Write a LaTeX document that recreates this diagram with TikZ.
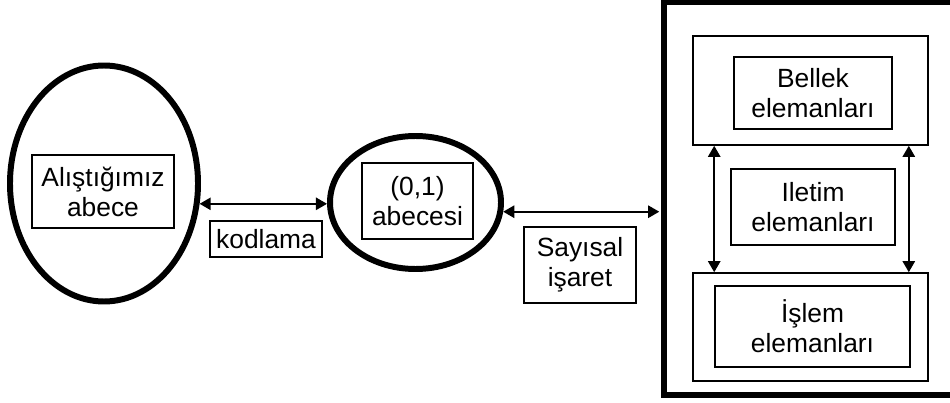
\documentclass[tikz,border=0pt]{standalone}
\usepackage{fontspec}
\setmainfont{Liberation Sans}
\usepackage{tikz}
\usetikzlibrary{arrows.meta,calc,positioning,shapes.geometric}
\tikzset{
    myellipse/.style={ellipse,draw=black,line width=3.4pt,inner sep=0pt},
    mybox/.style={rectangle,draw=black,line width=0.9pt,inner sep=0pt,align=center},
    myframe/.style={rectangle,draw=black,line width=3.4pt,inner sep=0pt},
    myarrow/.style={line width=1pt,draw=black,{Triangle[length=6.3pt,width=7pt]}-{Triangle[length=6.3pt,width=7pt]}},
    every node/.style={font=\fontsize{15}{17}\selectfont}
}

\begin{document}
\begin{tikzpicture}
  \useasboundingbox (0,0) rectangle (19,-8.06);
  % left part: ordinary alphabet and binary alphabet
  \node[myellipse,minimum width=3.76cm,minimum height=4.72cm] (alfa) at (2.08,-3.67) {};
  \node[mybox,minimum width=2.84cm,minimum height=1.46cm] (alfametin) at (2.06,-3.83) {Alıştığımız\\abece};
  \node[mybox,minimum width=2.24cm,minimum height=0.72cm] (kodlama) at (5.32,-4.78) {kodlama};
  \node[myellipse,minimum width=3.42cm,minimum height=2.66cm] (ikili) at (8.31,-4.05) {};
  \node[mybox,minimum width=2.22cm,minimum height=1.52cm] (ikilimetin) at (8.35,-4.02) {(0,1)\\abecesi};
  \node[mybox,minimum width=2.24cm,minimum height=1.52cm] (sayisal) at (11.6,-5.3) {Sayısal\\işaret};

  % right part: the machine
  \node[myframe,minimum width=5.86cm,minimum height=7.85cm] (makine) at (16.21,-3.975) {};
  \node[mybox,minimum width=4.7cm,minimum height=2.18cm] (bellek) at (16.21,-1.81) {};
  \node[mybox,minimum width=3.16cm,minimum height=1.44cm] (bellekmetin) at (16.26,-1.86) {Bellek\\elemanları};
  \node[mybox,minimum width=3.28cm,minimum height=1.52cm] (iletim) at (16.26,-4.14) {Iletim\\elemanları};
  \node[mybox,minimum width=4.7cm,minimum height=2.16cm] (islem) at (16.21,-6.54) {};
  \node[mybox,minimum width=3.9cm,minimum height=1.62cm] (islemmetin) at (16.25,-6.53) {İşlem\\elemanları};

  \draw[myarrow] (alfa.-12) -- (alfa.-12 -| ikili.west);
  \draw[myarrow,shorten >=1pt] (ikili.-6) -- (ikili.-6 -| makine.west);
  \draw[myarrow] ([xshift=0.44cm]bellek.south west) -- ([xshift=0.44cm]islem.north west);
  \draw[myarrow] ([xshift=-0.4cm]bellek.south east) -- ([xshift=-0.4cm]islem.north east);
\end{tikzpicture}
\end{document}
